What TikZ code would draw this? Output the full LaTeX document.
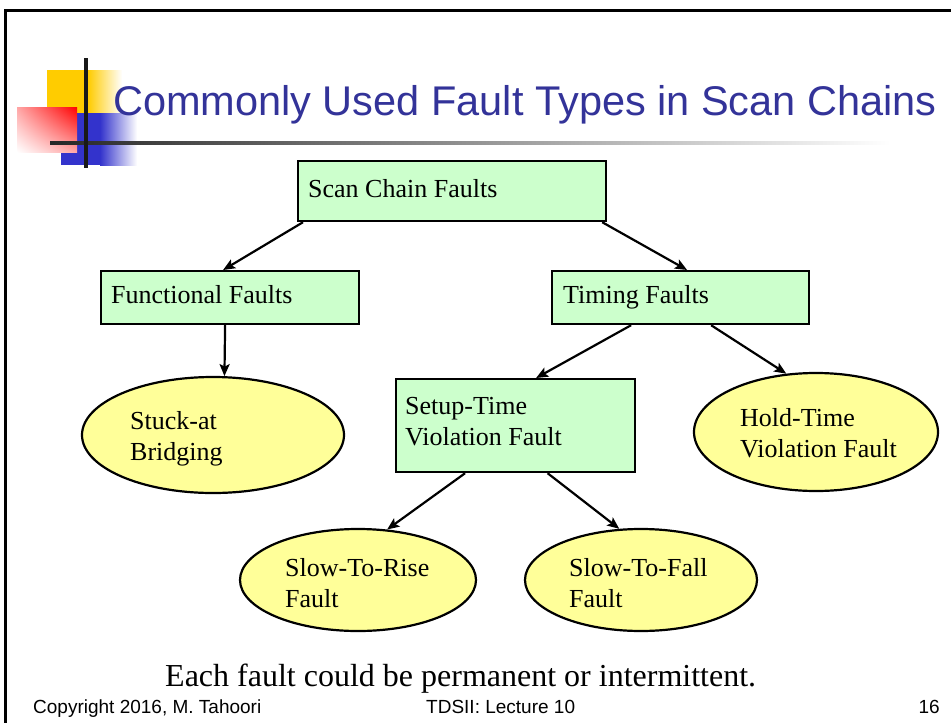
\documentclass[tikz,border=0pt]{standalone}
\usepackage{fontspec}
\setmainfont{Liberation Serif}
\newfontfamily\slidesans{Liberation Sans}
\usetikzlibrary{arrows.meta,shapes.geometric,shadings}

\definecolor{boxgreen}{HTML}{CCFFCC}
\definecolor{ovalyellow}{HTML}{FFFF99}
\definecolor{titleblue}{HTML}{333399}
\definecolor{logoyellow}{HTML}{FFCC00}
\definecolor{logoblue}{HTML}{3333CC}

\begin{document}
\begin{tikzpicture}[x=1pt,y=-1pt,
  faultbox/.style={draw, line width=2.2pt, fill=boxgreen, rectangle, inner sep=0pt, anchor=north west},
  faultoval/.style={draw, line width=2.2pt, fill=ovalyellow, ellipse, inner sep=0pt},
  lbl/.style={anchor=base west, inner sep=0pt, font=\fontsize{26}{31}\selectfont},
  foot/.style={anchor=base west, inner sep=0pt, font=\slidesans\fontsize{19}{22}\selectfont},
  link/.style={line width=2.2pt, -{Stealth[length=12pt,width=10pt,inset=2.5pt]}},
]
\useasboundingbox (0,0) rectangle (951,723);
\clip (0,0) rectangle (951,723);
\fill[white] (0,0) rectangle (951,723);

% slide frame
\draw[line width=3pt] (5,10) rectangle (1000,800);

% logo squares and rules
\fill[logoyellow] (47,70) rectangle (88,115);
\shade[left color=logoyellow, right color=white] (88,70) rectangle (122,115);
\fill[logoblue] (61,113) rectangle (100,165);
\shade[left color=logoblue, right color=white] (100,113) rectangle (137,165);
\shade[upper right=red, lower left=white, upper left=red!35!white, lower right=red!35!white] (17,107) rectangle (77,152);
\shade[left color=black!85, right color=white] (50,141.5) rectangle (890,144.5);
\fill[black!90] (84,58) rectangle (88,168);

% title
\node[anchor=base west, inner sep=0pt, text=titleblue, font=\slidesans\fontsize{41.5}{48}\selectfont] (title) at (113,115) {Commonly Used Fault Types in Scan Chains};

% boxes
\node[faultbox, minimum width=308pt, minimum height=60pt] (scf) at (297,160) {};
\node[faultbox, minimum width=258pt, minimum height=53pt] (func) at (100,270) {};
\node[faultbox, minimum width=257pt, minimum height=53pt] (timing) at (551,270) {};
\node[faultbox, minimum width=239pt, minimum height=93pt] (setup) at (395,378) {};

% ovals
\node[faultoval, minimum width=262pt, minimum height=116pt] (stuck) at (213,435) {};
\node[faultoval, minimum width=244pt, minimum height=118pt] (hold) at (816,432) {};
\node[faultoval, minimum width=236pt, minimum height=102pt] (rise) at (358,580) {};
\node[faultoval, minimum width=232pt, minimum height=102pt] (fall) at (641,580) {};

% labels
\node[lbl] (scfT) at (308,197) {Scan Chain Faults};
\node[lbl] (funcT) at (111,303) {Functional Faults};
\node[lbl] (timingT) at (563,303) {Timing Faults};
\node[lbl] (setupA) at (405,414) {Setup-Time};
\node[lbl] (setupB) at (405,445) {Violation Fault};
\node[lbl] (stuckA) at (130,429) {Stuck-at};
\node[lbl] (stuckB) at (130,460) {Bridging};
\node[lbl] (holdA) at (740,426) {Hold-Time};
\node[lbl] (holdB) at (740,457) {Violation Fault};
\node[lbl] (riseA) at (285,576) {Slow-To-Rise};
\node[lbl] (riseB) at (285,607) {Fault};
\node[lbl] (fallA) at (569,576) {Slow-To-Fall};
\node[lbl] (fallB) at (569,607) {Fault};

% connectors
\draw[link] ([xshift=6pt]scf.south west) -- ([xshift=-7pt]func.north);
\draw[link] ([xshift=-5pt]scf.south east) -- ([xshift=6.5pt]timing.north);
\draw[link] ([xshift=-5pt]func.south) -- (stuck.79);
\draw[link] ([xshift=-49.5pt]timing.south) -- ([xshift=20.5pt]setup.north);
\draw[link] ([xshift=30.5pt]timing.south) -- (hold.117);
\draw[link] ([xshift=-50.5pt]setup.south) -- (rise.60);
\draw[link] ([xshift=32pt]setup.south) -- (fall.113);

% closing remark and footer
\node[anchor=base west, inner sep=0pt, font=\fontsize{32}{36}\selectfont] (note) at (165,686) {Each fault could be permanent or intermittent.};
\node[foot] (copy) at (33,713) {Copyright 2016, M. Tahoori};
\node[foot] (lecture) at (426,713) {TDSII: Lecture 10};
\node[foot, anchor=base east] (page) at (940,713) {16};
\end{tikzpicture}
\end{document}
